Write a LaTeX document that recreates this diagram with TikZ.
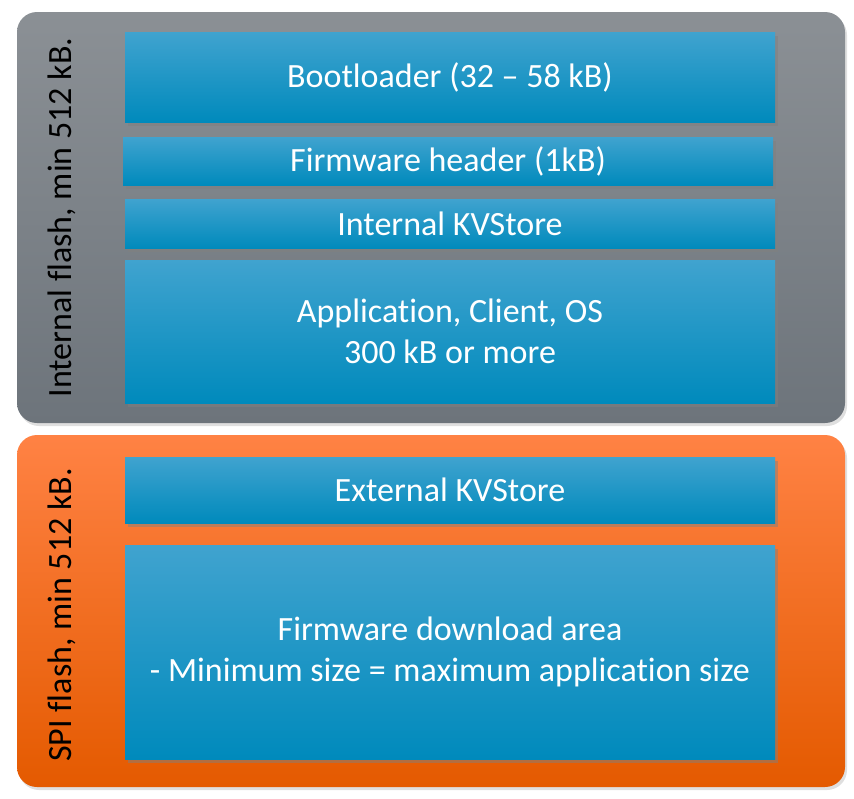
\documentclass[tikz,border=0pt]{standalone}
\usepackage{fontspec}
\setmainfont[RawFeature={-liga;-clig;-calt;-dlig}]{Carlito}
\usetikzlibrary{shadows}
\definecolor{grigiosu}{RGB}{139,144,149}
\definecolor{grigiogiu}{RGB}{109,116,123}
\definecolor{arancsu}{RGB}{255,130,68}
\definecolor{arancmezzo}{RGB}{254,106,8}
\definecolor{arancgiu}{RGB}{228,90,0}
\definecolor{blusu}{RGB}{64,163,207}
\definecolor{blumezzo}{RGB}{0,150,202}
\definecolor{blugiu}{RGB}{0,138,188}
\begin{document}
\begin{tikzpicture}[x=1pt, y=-1pt,
    zona/.style={rectangle, rounded corners=20pt, minimum width=828pt,
        drop shadow={shadow xshift=2pt, shadow yshift=-3pt, opacity=0.25}},
    blocco/.style={rectangle, minimum width=650pt, text=white, align=center,
        font=\fontsize{34}{41}\selectfont,
        top color=blusu, middle color=blumezzo, bottom color=blugiu,
        drop shadow={shadow xshift=3pt, shadow yshift=-4pt, opacity=0.5}},
    etichetta/.style={rotate=90, anchor=base, font=\fontsize{34}{41}\selectfont}]
    % Area del disegno, in pixel
    \useasboundingbox (0,0) rectangle (854,798);

    % Le due memorie (flash interna e flash SPI)
    \node[zona, minimum height=411pt, top color=grigiosu, bottom color=grigiogiu] (interna) at (431,217.5) {};
    \node[zona, minimum height=352pt, top color=arancsu, middle color=arancmezzo, bottom color=arancgiu] (spi) at (431,611) {};

    % Etichette verticali a sinistra
    \node[etichetta] (etinterna) at (71,217.5) {Internal flash, min 512 kB.};
    \node[etichetta] (etspi) at (71,615) {SPI flash, min 512 kB.};

    % Blocchi della flash interna
    \node[blocco, minimum height=90pt] (boot) at (450,77) {Bootloader (32 -- 58 kB)};
    \node[blocco, minimum height=48pt] (header) at (448,161) {Firmware header (1kB)};
    \node[blocco, minimum height=49pt] (intkv) at (450,223.5) {Internal KVStore};
    \node[blocco, minimum height=143pt] (app) at (450,331.5) {Application, Client, OS\\300 kB or more};

    % Blocchi della flash SPI
    \node[blocco, minimum height=66pt] (extkv) at (450,490) {External KVStore};
    \node[blocco, minimum height=214pt] (download) at (450,652) {Firmware download area\\- Minimum size = maximum application size};
\end{tikzpicture}
\end{document}
